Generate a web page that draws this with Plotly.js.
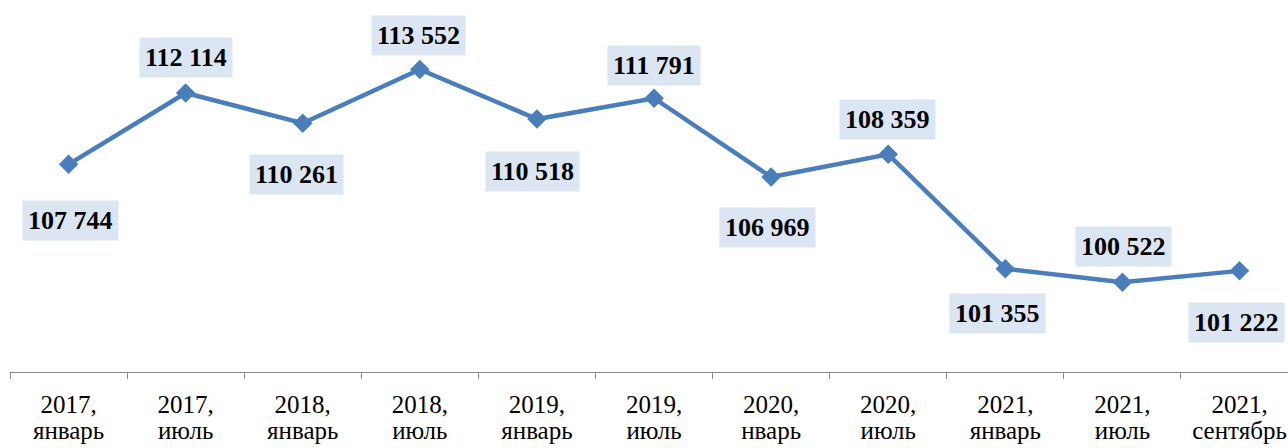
<!DOCTYPE html>
<html>
<head>
<meta charset="utf-8">
<script src="https://cdn.plot.ly/plotly-3.0.1.min.js"></script>
<style>
  html, body { margin: 0; padding: 0; background: #ffffff; }
  #chart { width: 1288px; height: 448px; }
</style>
</head>
<body>
<div id="chart"></div>
<script>
// ---- Data ----
const years = ["2017,", "2017,", "2018,", "2018,", "2019,", "2019,", "2020,", "2020,", "2021,", "2021,", "2021,"];
const months = ["январь", "июль", "январь", "июль", "январь", "июль", "нварь", "июль", "январь", "июль", "сентябрь"];
const values = [107744, 112114, 110261, 113552, 110518, 111791, 106969, 108359, 101355, 100522, 101222];

// ---- Styling (kept separate from data) ----
const labelShift = [-56, 35, -51, 34, -52, 33, -50, 35, -45, 36, -52];
const labelXShift = [2, 0, -6, -1, -4, 0, -4, -1, -8, 1, -3];
const FONT = "Liberation Serif, Times New Roman, serif";
const RANGE = [-0.5, 10.414];

function fmt(v) {
  return String(v).replace(/\B(?=(\d{3})+(?!\d))/g, " ");
}

const xIdx = values.map((_, i) => i);

const trace = {
  x: xIdx,
  y: values,
  type: "scatter",
  mode: "lines+markers",
  line: { color: "#4a7ebb", width: 4.5 },
  marker: { symbol: "diamond", size: 15, color: "#4a7ebb" },
  hoverinfo: "skip"
};

const annotations = values.map((v, i) => ({
  x: xIdx[i],
  y: v,
  xref: "x",
  yref: "y",
  text: "<b>" + fmt(v) + "</b>",
  showarrow: false,
  yshift: labelShift[i],
  xshift: labelXShift[i],
  bgcolor: "#dce6f2",
  borderpad: 5,
  font: { family: FONT, size: 26, color: "#000000" }
}));

const layout = {
  width: 1288,
  height: 448,
  margin: { l: 10, r: 0, t: 0, b: 76, pad: 0 },
  paper_bgcolor: "#ffffff",
  plot_bgcolor: "#ffffff",
  showlegend: false,
  xaxis: {
    type: "linear",
    range: RANGE,
    tickmode: "array",
    tickvals: xIdx,
    ticktext: years,
    ticks: "",
    showline: true,
    linecolor: "#898989",
    linewidth: 1,
    showgrid: false,
    zeroline: false,
    ticklabelstandoff: 10,
    ticklabeloverflow: "allow",
    tickfont: { family: FONT, size: 25, color: "#000000" },
    fixedrange: true
  },
  xaxis2: {
    overlaying: "x",
    matches: "x",
    range: RANGE,
    tickmode: "array",
    tickvals: xIdx,
    ticktext: months,
    ticks: "",
    showgrid: false,
    zeroline: false,
    anchor: "y",
    side: "bottom",
    ticklabelstandoff: 41,
    ticklabeloverflow: "allow",
    tickfont: { family: FONT, size: 25, color: "#000000" }
  },
  xaxis3: {
    overlaying: "x",
    matches: "x",
    range: RANGE,
    tickmode: "array",
    tickvals: xIdx.concat([xIdx.length]).map(i => i - 0.5),
    showticklabels: false,
    ticks: "outside",
    ticklen: 6,
    tickcolor: "#898989",
    tickwidth: 1,
    showgrid: false,
    zeroline: false,
    anchor: "y",
    side: "bottom"
  },
  yaxis: {
    range: [95030, 117807],
    visible: false,
    showgrid: false,
    zeroline: false,
    fixedrange: true
  },
  annotations: annotations
};

const dummy2 = { x: [0], y: [null], xaxis: "x2", yaxis: "y", type: "scatter", mode: "markers", hoverinfo: "skip" };
const dummy3 = { x: [0], y: [null], xaxis: "x3", yaxis: "y", type: "scatter", mode: "markers", hoverinfo: "skip" };

Plotly.newPlot("chart", [trace, dummy2, dummy3], layout, { displayModeBar: false, staticPlot: true });
</script>
</body>
</html>
